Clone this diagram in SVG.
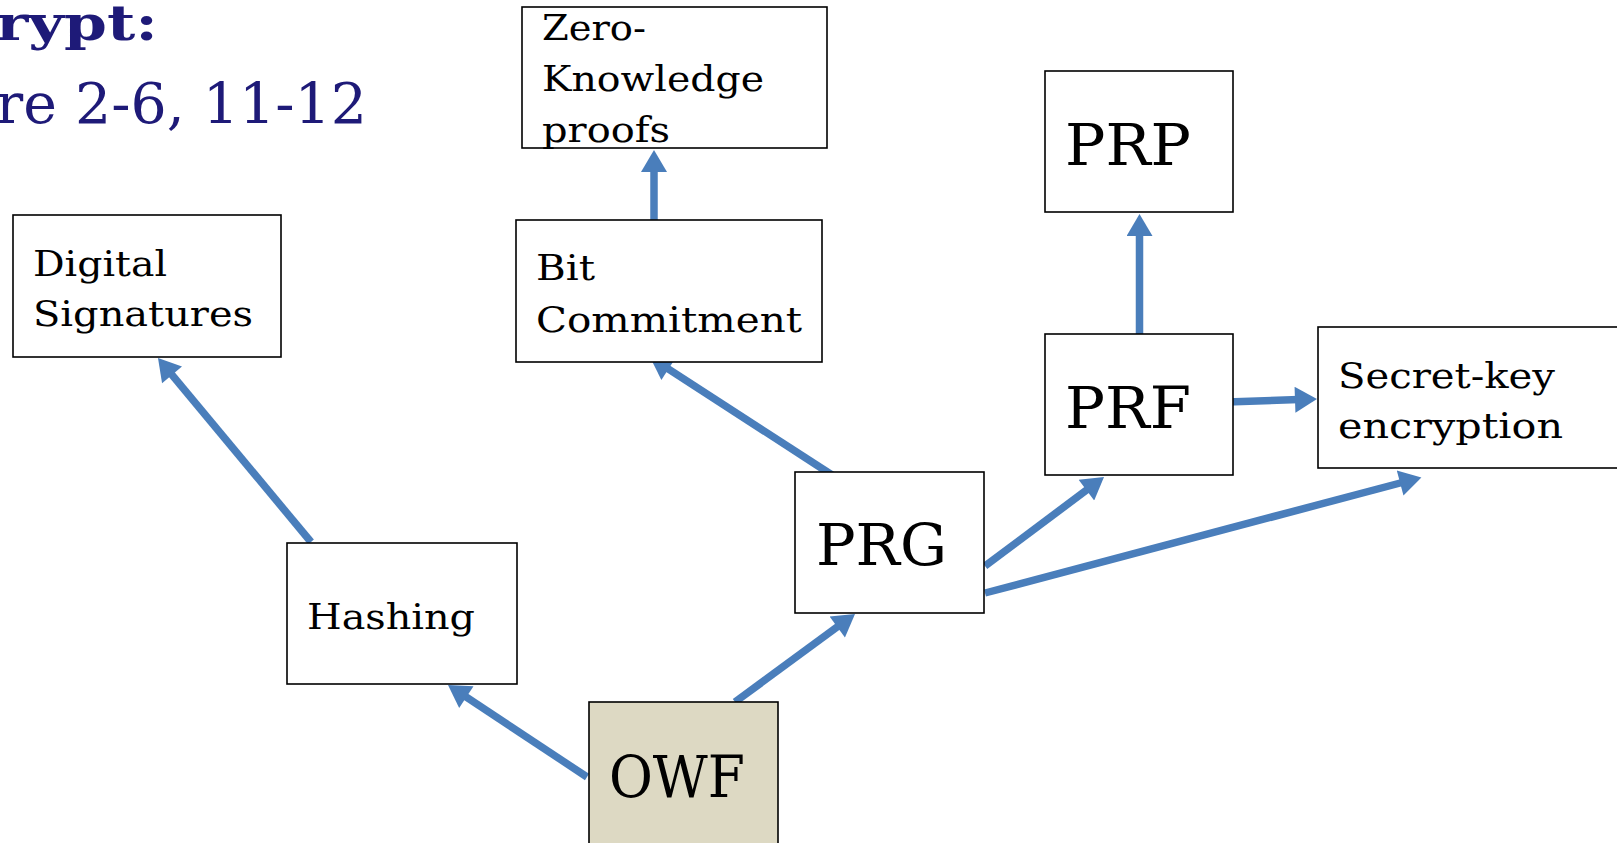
<svg xmlns="http://www.w3.org/2000/svg" width="1617" height="843" viewBox="0 0 1617 843">
<style>
.box{fill:#fff;stroke:#000;stroke-width:1.6}
.owf{fill:#DDD9C3;stroke:#000;stroke-width:1.6}
.lbl{font-family:"DejaVu Serif","Liberation Serif",serif;font-size:36px;fill:#000}
.big{font-family:"DejaVu Serif","Liberation Serif",serif;font-size:58px;fill:#000}
.title{font-family:"DejaVu Serif","Liberation Serif",serif;fill:#1E1A78}
.conn line{stroke:#4A7EBB;stroke-width:7.5;marker-end:url(#ah)}
</style>
<defs>
<marker id="ah" markerUnits="userSpaceOnUse" markerWidth="24" markerHeight="26" viewBox="0 0 22 26" refX="4" refY="13" orient="auto">
<path d="M0,0 L22,13 L0,26 z" fill="#4A7EBB"/>
</marker>
</defs>
<rect width="1617" height="843" fill="#fff"/>
<g id="title">
<text class="title" x="-4" y="40" font-size="48" font-weight="bold" textLength="162" lengthAdjust="spacingAndGlyphs">rypt:</text>
<text class="title" x="-4" y="123" font-size="56" textLength="371" lengthAdjust="spacingAndGlyphs">re 2-6, 11-12</text>
</g>
<g id="connectors" class="conn">
<line x1="654" y1="226" x2="654" y2="168"/>
<line x1="1139.5" y1="334" x2="1139.5" y2="232"/>
<line x1="311" y1="542" x2="169.5" y2="371.8"/>
<line x1="832" y1="475" x2="665.1" y2="366.8"/>
<line x1="587" y1="777" x2="463" y2="694.9"/>
<line x1="735" y1="702" x2="840.5" y2="624.6"/>
<line x1="985" y1="566" x2="1089.6" y2="487.8"/>
<line x1="985" y1="593" x2="1404" y2="482"/>
<line x1="1227" y1="402" x2="1299" y2="399.6"/>
</g>
<g id="zk">
<rect class="box" x="522" y="7" width="305" height="141"/>
<text class="lbl" x="542" y="40" textLength="104" lengthAdjust="spacingAndGlyphs">Zero-</text>
<text class="lbl" x="542" y="91" textLength="222" lengthAdjust="spacingAndGlyphs">Knowledge</text>
<text class="lbl" x="542" y="142" textLength="128" lengthAdjust="spacingAndGlyphs">proofs</text>
</g>
<g id="digsig">
<rect class="box" x="13" y="215" width="268" height="142"/>
<text class="lbl" x="33" y="276" textLength="134" lengthAdjust="spacingAndGlyphs">Digital</text>
<text class="lbl" x="33" y="326" textLength="220" lengthAdjust="spacingAndGlyphs">Signatures</text>
</g>
<g id="bitc">
<rect class="box" x="516" y="220" width="306" height="142"/>
<text class="lbl" x="536" y="280" textLength="59" lengthAdjust="spacingAndGlyphs">Bit</text>
<text class="lbl" x="536" y="332" textLength="266" lengthAdjust="spacingAndGlyphs">Commitment</text>
</g>
<g id="prp">
<rect class="box" x="1045" y="71" width="188" height="141"/>
<text class="big" x="1065" y="165" textLength="126" lengthAdjust="spacingAndGlyphs">PRP</text>
</g>
<g id="prf">
<rect class="box" x="1045" y="334" width="188" height="141"/>
<text class="big" x="1065" y="428" textLength="126" lengthAdjust="spacingAndGlyphs">PRF</text>
</g>
<g id="ske">
<rect class="box" x="1318" y="327" width="320" height="141"/>
<text class="lbl" x="1338" y="388" textLength="217" lengthAdjust="spacingAndGlyphs">Secret-key</text>
<text class="lbl" x="1338" y="438" textLength="225" lengthAdjust="spacingAndGlyphs">encryption</text>
</g>
<g id="hashing">
<rect class="box" x="287" y="543" width="230" height="141"/>
<text class="lbl" x="307" y="629" textLength="168" lengthAdjust="spacingAndGlyphs">Hashing</text>
</g>
<g id="prg">
<rect class="box" x="795" y="472" width="189" height="141"/>
<text class="big" x="816" y="565" textLength="131" lengthAdjust="spacingAndGlyphs">PRG</text>
</g>
<g id="owf">
<rect class="owf" x="589" y="702" width="189" height="160"/>
<text class="big" x="609" y="797" textLength="136" lengthAdjust="spacingAndGlyphs">OWF</text>
</g>
</svg>
